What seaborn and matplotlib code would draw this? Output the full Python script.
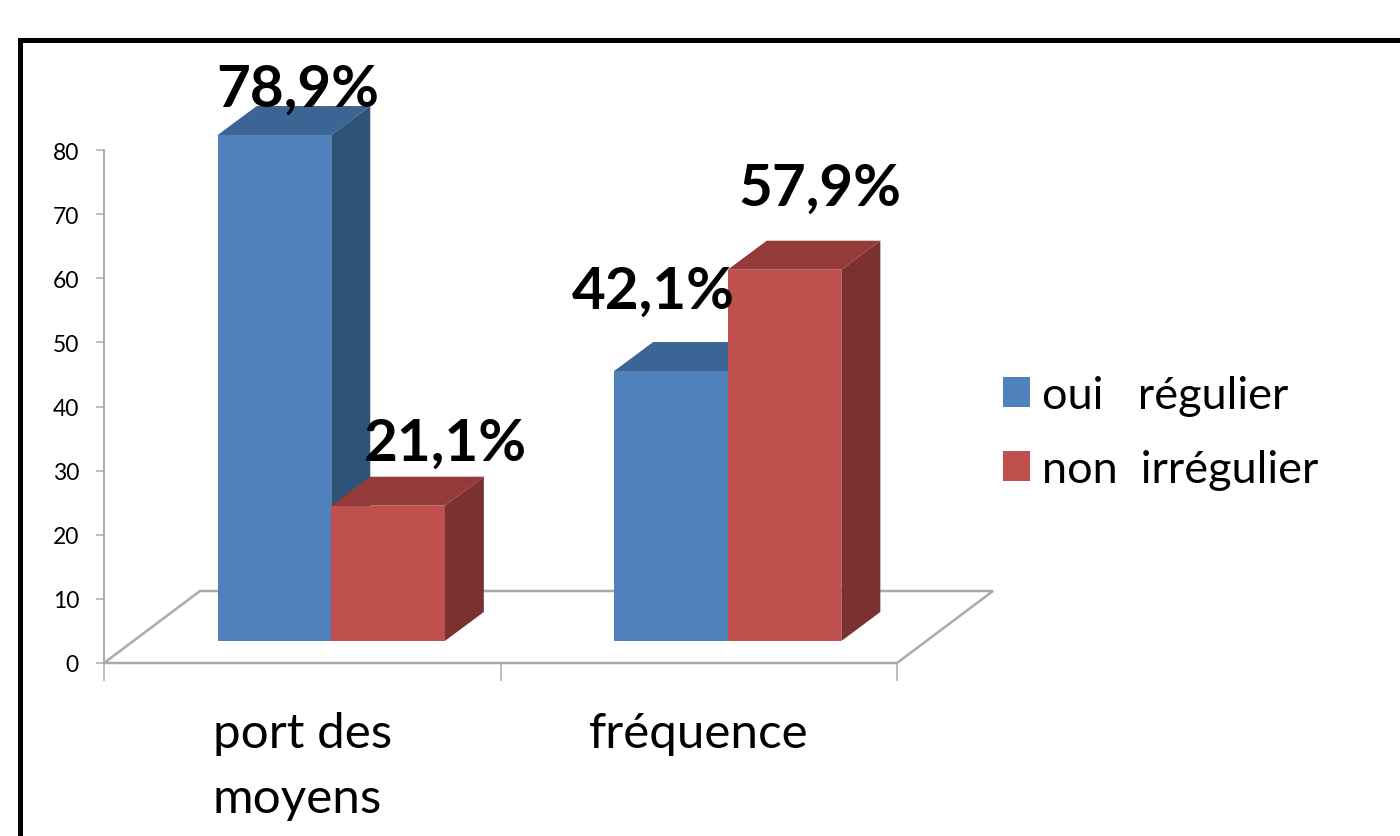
import matplotlib
matplotlib.use("Agg")
import matplotlib.pyplot as plt
import pandas as pd
import seaborn as sns
from matplotlib.patches import Polygon, Rectangle
from matplotlib.transforms import IdentityTransform

categories = ["port des\nmoyens", "fréquence"]
series_names = ["oui   régulier", "non  irrégulier"]
oui_values = [78.9, 42.1]
non_values = [21.1, 57.9]
y_ticks = [0, 10, 20, 30, 40, 50, 60, 70, 80]

front_colors = ["#4F81BD", "#C0504D"]
side_colors = ["#2F5277", "#7B3130"]
top_colors = ["#3C6494", "#943A38"]
GRAY = "#ABABAB"

W, H = 1400, 837
sns.set_style("white")
plt.rcParams["font.family"] = ["Lato", "DejaVu Sans"]


def box(left, top, right, bottom):
    return [left / W, 1 - bottom / H, (right - left) / W, (bottom - top) / H]


px = 0.72  # points per pixel at 100 dpi
fig = plt.figure(figsize=(W / 100, H / 100), dpi=100, facecolor="white")

# outer black frame, running off the canvas on the right and bottom
fig.add_artist(Rectangle((19.5 / W, 1 - 900 / H), 1500 / W, (900 - 40.5) / H,
                         transform=fig.transFigure, fill=False,
                         edgecolor="black", linewidth=5 * px))

# axis frame with the value scale and category labels
frame = fig.add_axes(box(104, 151, 897, 664))
frame.set_facecolor("none")
frame.set_xlim(0, 2)
frame.set_ylim(0, 80)
frame.set_yticks(y_ticks)
frame.set_xticks([0, 1, 2])
frame.set_xticklabels([])
frame.set_xticks([0.5, 1.5], minor=True)
frame.set_xticklabels(categories, minor=True, fontsize=35.6, color="black",
                      multialignment="left", linespacing=1.58)
frame.tick_params(axis="x", which="major", length=18 * px, width=1.5 * px,
                  color=GRAY, bottom=True)
frame.tick_params(axis="x", which="minor", length=0, pad=48 * px, bottom=False)
frame.tick_params(axis="y", length=8 * px, width=1.5 * px, color=GRAY,
                  left=True, labelsize=16.5, pad=17 * px, labelcolor="black")
for name in ["top", "right"]:
    frame.spines[name].set_visible(False)
for name in ["left", "bottom"]:
    frame.spines[name].set_color(GRAY)
    frame.spines[name].set_linewidth(2 * px)

# floor of the 3D box
fig.canvas.draw()
x0, y0 = frame.transData.transform((0, 0))
x1, y1 = frame.transData.transform((2, 0))
floor = Polygon([(x0, y0), (x0 + 96, y0 + 72), (x1 + 96, y1 + 72), (x1, y1)],
                closed=True, fill=False, edgecolor=GRAY, linewidth=2.5 * px,
                transform=IdentityTransform(), clip_on=False, zorder=-1)
fig.add_artist(floor)

# bars sit part-way into the floor, in their own shifted axes
ax = fig.add_axes(box(133, 129, 926, 642))
ax.set_facecolor("none")
df = pd.DataFrame({
    "cat": categories * 2,
    "serie": [series_names[0]] * 2 + [series_names[1]] * 2,
    "val": oui_values + non_values,
})
sns.barplot(data=df, x="cat", y="val", hue="serie", palette=front_colors,
            width=0.573, gap=0, saturation=1, ax=ax, linewidth=0)
ax.set_xlim(-0.5, 1.5)
ax.set_ylim(0, 80)
ax.set_xlabel("")
ax.set_ylabel("")
ax.set_xticks([])
ax.set_yticks([])
for s in ax.spines.values():
    s.set_visible(False)

fig.canvas.draw()
dx, dy = 39, 29
bars = []
for sidx, cont in enumerate(ax.containers):
    for b in cont:
        bars.append((b.get_x(), sidx, b))
bars.sort(key=lambda t: t[0])
label_offsets = {0: (23.5, 29), 1: (57, 46), 2: (-18, 63), 3: (35, 65)}
for i, (_, sidx, b) in enumerate(bars):
    (xa, ya) = ax.transData.transform((b.get_x(), 0))
    (xb, yb) = ax.transData.transform((b.get_x() + b.get_width(), b.get_height()))
    side = Polygon([(xb, ya), (xb + dx, ya + dy), (xb + dx, yb + dy), (xb, yb)],
                   closed=True, facecolor=side_colors[sidx], edgecolor="none",
                   transform=IdentityTransform(), clip_on=False, zorder=3 * i + 3)
    top = Polygon([(xa, yb), (xa + dx, yb + dy), (xb + dx, yb + dy), (xb, yb)],
                  closed=True, facecolor=top_colors[sidx], edgecolor="none",
                  transform=IdentityTransform(), clip_on=False, zorder=3 * i + 4)
    ax.add_patch(side)
    ax.add_patch(top)
    b.set_zorder(3 * i + 5)
    ox, oy = label_offsets[i]
    ax.annotate(f"{b.get_height():.1f}%".replace(".", ","),
                xy=(b.get_x() + b.get_width() / 2, b.get_height()),
                xycoords="data", xytext=(ox, oy), textcoords="offset pixels",
                ha="center", va="baseline", fontsize=42, fontweight="bold",
                color="black", zorder=100, annotation_clip=False)

fs = 32.5
sns.move_legend(ax, "upper left", bbox_to_anchor=(1003 / W, 1 - 376 / H),
                bbox_transform=fig.transFigure, title=None, frameon=False,
                fontsize=fs, labelcolor="black", borderpad=0, borderaxespad=0,
                handlelength=27 * px / fs, handleheight=28 * px / fs,
                handletextpad=12 * px / fs, labelspacing=0.73)

fig.savefig("out.png", dpi=100)
